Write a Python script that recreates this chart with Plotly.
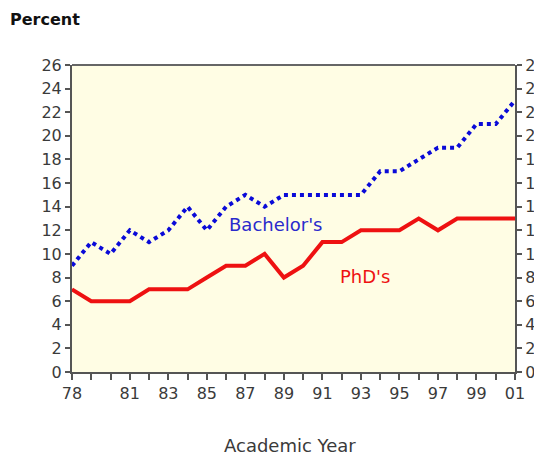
import plotly.graph_objects as go

years = list(range(1978, 2002))
bachelors = [9, 11, 10, 12, 11, 12, 14, 12, 14, 15, 14, 15, 15, 15, 15, 15,
             17, 17, 18, 19, 19, 21, 21, 23]
phds = [7, 6, 6, 6, 7, 7, 7, 8, 9, 9, 10, 8, 9, 11, 11, 12,
        12, 12, 13, 12, 13, 13, 13, 13]
labeled_years = {1978: "78", 1981: "81", 1983: "83", 1985: "85", 1987: "87",
                 1989: "89", 1991: "91", 1993: "93", 1995: "95", 1997: "97",
                 1999: "99", 2001: "01"}
y_ticks = list(range(0, 27, 2))

tick_text = [labeled_years.get(y, "") for y in years]

axis_color = "#555555"
font_color = "#3a3a3a"
FONT = "DejaVu Sans, Arial, sans-serif"

W, H = 534, 453
L, R, T, B = 72, 19, 65, 81
PW, PH = W - L - R, H - T - B


def px_to_paper(px, py):
    return (px - L) / PW, 1 - (py - T) / PH


fig = go.Figure()
fig.add_trace(go.Scatter(
    x=years, y=bachelors, mode="lines",
    line=dict(color="#0a0ad8", width=4, dash="4px,4px"),
    showlegend=False, hoverinfo="skip"))
fig.add_trace(go.Scatter(
    x=years, y=phds, mode="lines",
    line=dict(color="#ee1111", width=4),
    showlegend=False, hoverinfo="skip"))
fig.add_trace(go.Scatter(x=[years[0]], y=[0], yaxis="y2", mode="markers",
                         marker=dict(opacity=0), showlegend=False,
                         hoverinfo="skip"))

fig.add_annotation(x=1988.6, y=12.5, text="Bachelor's", showarrow=False,
                   font=dict(color="#2a2acc", size=18, family=FONT),
                   xref="x", yref="y")
fig.add_annotation(x=1993.2, y=8.05, text="PhD's", showarrow=False,
                   font=dict(color="#ee1111", size=18, family=FONT),
                   xref="x", yref="y")
px, py = px_to_paper(8, 20)
fig.add_annotation(x=px, y=py, text="<b>Percent</b>", showarrow=False,
                   xref="paper", yref="paper", xanchor="left", yanchor="middle",
                   font=dict(color="#111111", size=16, family=FONT))
px, py = px_to_paper(290, 445)
fig.add_annotation(x=px, y=py, text="Academic Year", showarrow=False,
                   xref="paper", yref="paper", xanchor="center",
                   yanchor="middle",
                   font=dict(color=font_color, size=18, family=FONT))

common_y = dict(range=[0, 26], tickvals=y_ticks, ticks="outside", ticklen=5,
                tickwidth=1.5, tickcolor=axis_color, showline=True,
                linecolor=axis_color, linewidth=2, showgrid=False,
                zeroline=False, automargin=False,
                tickfont=dict(size=16, color=font_color, family=FONT))

fig.update_layout(
    width=W, height=H,
    margin=dict(l=L, r=R, t=T, b=B),
    paper_bgcolor="white",
    plot_bgcolor="#fffde4",
    font=dict(family=FONT, size=16, color=font_color),
    xaxis=dict(range=[1978, 2001], tickvals=years, ticktext=tick_text,
               ticks="outside", ticklen=6, tickwidth=1.5, tickcolor=axis_color,
               showline=True, linecolor=axis_color, linewidth=2,
               showgrid=False, zeroline=False, automargin=False,
               tickfont=dict(size=16, color=font_color, family=FONT)),
    yaxis=dict(**common_y),
    yaxis2=dict(**common_y, overlaying="y", side="right"),
    shapes=[dict(type="line", xref="paper", yref="paper", x0=0, x1=1,
                 y0=1, y1=1, line=dict(color="#666666", width=2))],
)

fig.write_html("out.html", config={"displayModeBar": False},
               post_script="document.body.style.margin='0';")
